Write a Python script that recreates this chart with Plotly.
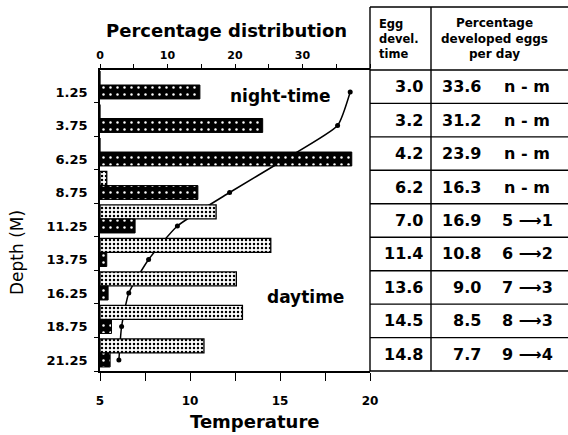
import plotly.graph_objects as go

# ---------------- data ----------------
depths = [1.25, 3.75, 6.25, 8.75, 11.25, 13.75, 16.25, 18.75, 21.25]
depth_labels = ["1.25", "3.75", "6.25", "8.75", "11.25", "13.75", "16.25", "18.75", "21.25"]
night_pct = [14.8, 24.1, 37.3, 14.5, 5.2, 1.0, 1.2, 1.7, 1.5]
day_pct = [0.0, 0.0, 0.0, 1.0, 17.2, 25.3, 20.2, 21.1, 15.4]
temperature = [18.9, 18.2, 15.3, 12.2, 9.3, 7.7, 6.6, 6.2, 6.05]

egg_devel_time = [3.0, 3.2, 4.2, 6.2, 7.0, 11.4, 13.6, 14.5, 14.8]
pct_developed = [33.6, 31.2, 23.9, 16.3, 16.9, 10.8, 9.0, 8.5, 7.7]
stage_labels = ["n - m", "n - m", "n - m", "n - m", "5 ⟶1", "6 ⟶2", "7 ⟶3", "8 ⟶3", "9 ⟶4"]

pct_ticks = [0, 10, 20, 30]
temp_ticks = [5, 10, 15, 20]

# ---------------- layout helpers ----------------
W, H = 568, 435
def px(x):
    return x / W
def py(y):
    return 1 - y / H

PLOT_L, PLOT_R, PLOT_T, PLOT_B = 100, 370, 70, 371
TABLE_R = 568
COL_SPLIT = 431
row_lines = [70, 103.4, 136.9, 170.3, 203.8, 237.2, 270.7, 304.1, 337.6, 371]

BOLD = "DejaVu Sans"

fig = go.Figure()

# day bars (upper part of each row)
fig.add_trace(go.Bar(
    y=depths, x=day_pct, orientation="h", xaxis="x2", yaxis="y",
    offset=-1.57, width=1.04,
    marker=dict(color="white", line=dict(color="black", width=1.3),
                pattern=dict(shape=".", fgcolor="black", bgcolor="white", size=4, solidity=0.3)),
    showlegend=False, hoverinfo="skip",
))
# night bars (lower part of each row)
fig.add_trace(go.Bar(
    y=depths, x=night_pct, orientation="h", xaxis="x2", yaxis="y",
    offset=-0.52, width=1.04,
    marker=dict(color="black", line=dict(color="black", width=1),
                pattern=dict(shape=".", fgcolor="white", bgcolor="black", size=7, solidity=0.1)),
    showlegend=False, hoverinfo="skip",
))
# temperature profile
fig.add_trace(go.Scatter(
    y=depths, x=temperature, xaxis="x", yaxis="y", mode="lines+markers",
    line=dict(color="black", width=1.5, shape="spline", smoothing=0.5),
    marker=dict(color="black", size=5),
    showlegend=False, hoverinfo="skip",
))

axis_font = dict(family=BOLD, size=12, color="black", weight="bold")

fig.update_layout(
    width=W, height=H, template="none",
    margin=dict(l=0, r=0, t=0, b=0),
    paper_bgcolor="white", plot_bgcolor="white",
    barmode="overlay",
    xaxis=dict(
        domain=[px(PLOT_L), px(PLOT_R)], range=[5, 20], anchor="y", side="bottom",
        tickvals=temp_ticks, ticktext=[str(t) for t in temp_ticks],
        ticks="outside", ticklen=8, tickwidth=1.3, tickcolor="black",
        minor=dict(dtick=2.5, tick0=5, ticks="outside", ticklen=8, tickwidth=1.3, tickcolor="black"),
        showline=True, linecolor="black", linewidth=1.5, showgrid=False, zeroline=False,
        tickfont=axis_font, automargin=False, ticklabelstandoff=10,
    ),
    xaxis2=dict(
        domain=[px(PLOT_L), px(PLOT_R)], range=[0, 40], overlaying="x", anchor="y", side="top",
        tickvals=pct_ticks, ticktext=[str(t) for t in pct_ticks],
        ticks="outside", ticklen=4, tickwidth=1.2, tickcolor="black",
        minor=dict(dtick=5, tick0=0, ticks="outside", ticklen=4, tickwidth=1.2, tickcolor="black"),
        showline=True, linecolor="black", linewidth=1.5, showgrid=False, zeroline=False,
        tickfont=dict(family=BOLD, size=11, color="black", weight="bold"), automargin=False,
        ticklabelstandoff=1,
    ),
    yaxis=dict(
        domain=[py(PLOT_B), py(PLOT_T)], range=[22.07, -0.39],
        tickvals=depths, ticktext=depth_labels, ticks="",
        minor=dict(tick0=2.07, dtick=2.5, ticks="outside", ticklen=4, tickwidth=1.2, tickcolor="black"),
        showline=True, linecolor="black", linewidth=1.5, showgrid=False, zeroline=False,
        tickfont=dict(family=BOLD, size=13, color="black", weight="bold"), automargin=False,
        ticklabelstandoff=8,
    ),
)

shapes = []
line_style = dict(color="black", width=1.4)
# table verticals
shapes.append(dict(type="line", xref="paper", yref="paper", x0=px(PLOT_R), x1=px(PLOT_R), y0=py(7), y1=py(371), line=line_style))
shapes.append(dict(type="line", xref="paper", yref="paper", x0=px(COL_SPLIT), x1=px(COL_SPLIT), y0=py(7), y1=py(371), line=line_style))
# table horizontals
shapes.append(dict(type="line", xref="paper", yref="paper", x0=px(PLOT_R), x1=px(TABLE_R), y0=py(7), y1=py(7), line=line_style))
for yl in row_lines:
    shapes.append(dict(type="line", xref="paper", yref="paper", x0=px(PLOT_R), x1=px(TABLE_R), y0=py(yl), y1=py(yl), line=line_style))
fig.update_layout(shapes=shapes)

ann = []
def text(x, y, s, size, anchor="center", bold=True, family=BOLD, angle=0, align="center"):
    ann.append(dict(xref="paper", yref="paper", x=px(x), y=py(y), text=s, showarrow=False,
                    xanchor=anchor, yanchor="middle", textangle=angle, align=align,
                    font=dict(family=family, size=size, color="black", weight="bold" if bold else "normal")))

text(226, 30, "Percentage distribution", 18)
text(254, 421, "Temperature", 18)
text(17, 253, "Depth (M)", 17, bold=False, angle=-90)
text(280, 96, "night-time", 17)
text(306, 297, "daytime", 17)

# table header
text(377, 39, "Egg<br>devel.<br>time", 11.5, anchor="left", align="left")
text(494, 39, "Percentage<br>developed eggs<br>per day", 12)

# table body
for i in range(len(egg_devel_time)):
    yc = (row_lines[i] + row_lines[i + 1]) / 2
    text(425, yc, f"{egg_devel_time[i]:.1f}", 16, anchor="right")
    text(483, yc, f"{pct_developed[i]:.1f}", 16, anchor="right")
    text(527, yc, stage_labels[i], 16)

fig.update_layout(annotations=ann)

fig.write_html("out.html", config={"displayModeBar": False},
               post_script="document.body.style.margin='0';document.body.style.overflow='hidden';")
